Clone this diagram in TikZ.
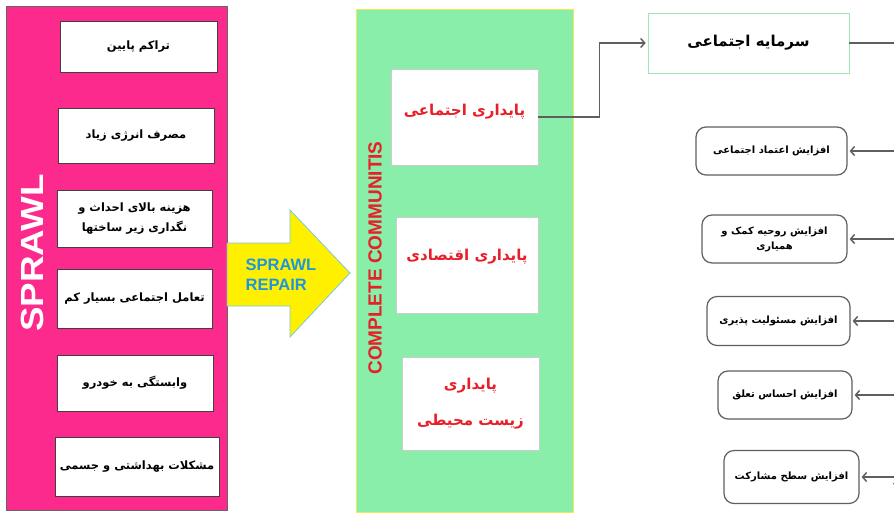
\documentclass[tikz,border=0pt]{standalone}
\usepackage{fontspec}
\setmainfont{Liberation Sans}
\newfontfamily\fa[Script=Arabic]{DejaVu Sans}
\TeXXeTstate=1
\usetikzlibrary{arrows.meta,positioning}

\definecolor{sprawlpink}{RGB}{252,42,140}
\definecolor{commgreen}{RGB}{136,238,170}
\definecolor{commedge}{RGB}{236,236,80}
\definecolor{repairyellow}{RGB}{255,240,0}
\definecolor{repairedge}{RGB}{120,200,230}
\definecolor{repairblue}{RGB}{30,150,220}
\definecolor{fared}{RGB}{232,30,40}
\definecolor{capedge}{RGB}{160,230,180}
\definecolor{linkgray}{RGB}{95,95,95}

\newcommand{\fat}[1]{{\fa\bfseries\beginR #1\endR}}

\begin{document}
\begin{tikzpicture}[x=1pt,y=-1pt,>={Straight Barb[length=4pt,width=9pt]},
                    shorten >=2pt,semithick]
  \tikzstyle{badbox}=[draw=black!75,fill=white,inner sep=0pt,align=center,
                      font=\fontsize{11.5}{20}\selectfont]
  \tikzstyle{goodbox}=[draw=black!20,fill=white,inner sep=0pt,align=center,
                       text=fared,font=\fontsize{15}{36}\selectfont]
  \tikzstyle{gainbox}=[draw=linkgray,line width=1.2pt,rounded corners=10pt,
                       fill=white,inner sep=0pt,align=center,
                       font=\fontsize{10}{15}\selectfont]

  \useasboundingbox (0,0) rectangle (894,515);

  % sprawl column
  \node[draw=black!60,fill=sprawlpink,minimum width=221pt,minimum height=504pt,
        inner sep=0pt]	(sprawl)	at (116.5,258)	{};
  \node[rotate=90,text=white,font=\bfseries\fontsize{32}{32}\selectfont]
        	(sprawltitle)	at (32,253)	{\scalebox{1.15}[1]{SPRAWL}};

  \node[badbox,minimum width=157pt,minimum height=51pt]	(b1)	at (138.5,46.5)	{\fat{تراکم پایین}};
  \node[badbox,minimum width=156pt,minimum height=55pt]	(b2)	at (136,135.5)	{\fat{مصرف انرژی زیاد}};
  \node[badbox,minimum width=155pt,minimum height=57pt]	(b3)	at (134.5,218.5)	{\fat{هزینه بالای احداث و}\\\fat{نگداری زیر ساختها}};
  \node[badbox,minimum width=155pt,minimum height=59pt]	(b4)	at (134.5,298.5)	{\fat{تعامل اجتماعی بسیار کم}};
  \node[badbox,minimum width=156pt,minimum height=56pt]	(b5)	at (135,383)	{\fat{وابستگی به خودرو}};
  \node[badbox,minimum width=164pt,minimum height=59pt]	(b6)	at (137,466.5)	{\fat{مشکلات بهداشتی و جسمی}};

  % repair arrow
  \draw[fill=repairyellow,draw=repairedge,thick]
        (227,243) -- (290,243) -- (290,210) -- (350,273) -- (290,337) -- (290,306) -- (227,306) -- cycle;
  \node[align=left,text=repairblue,inner sep=0pt,
        font=\bfseries\fontsize{16.5}{20}\selectfont]	(repair)	at (281,275)	{SPRAWL\\REPAIR};

  % complete communities column
  \node[draw=commedge,fill=commgreen,minimum width=217pt,minimum height=503pt,
        inner sep=0pt]	(comm)	at (464.5,260.5)	{};
  \node[rotate=90,text=fared,font=\bfseries\fontsize{19}{19}\selectfont]
        	(commtitle)	at (375,258)	{COMPLETE COMMUNITIS};

  \node[goodbox,minimum width=147pt,minimum height=96pt]	(g1)	at (464.5,117)	{\raisebox{2pt}[0pt][0pt]{\fat{پایداری اجتماعی}}};
  \node[goodbox,minimum width=142pt,minimum height=96pt]	(g2)	at (467,265)	{\raisebox{5pt}[0pt][0pt]{\fat{پایداری اقتصادی}}};
  \node[goodbox,minimum width=137pt,minimum height=93pt]	(g3)	at (470.5,403.5)	{\fat{پایداری}\\\fat{زیست محیطی}};

  % social capital
  \node[draw=capedge,fill=white,minimum width=201pt,minimum height=60pt,
        inner sep=0pt,font=\fontsize{15}{17}\selectfont]	(capital)	at (748.5,43)	{\fat{سرمایه اجتماعی}};
  \coordinate	(rail)	at (898,43);

  \node[gainbox,minimum width=151pt,minimum height=48pt]	(r1)	at (771.5,151)	{\fat{افزایش اعتماد اجتماعی}};
  \node[gainbox,minimum width=145pt,minimum height=48pt]	(r2)	at (774.5,239)	{\fat{افزایش روحیه کمک و}\\\fat{همیاری}};
  \node[gainbox,minimum width=143pt,minimum height=49pt]	(r3)	at (778.5,321)	{\fat{افزایش مسئولیت پذیری}};
  \node[gainbox,minimum width=134pt,minimum height=48pt]	(r4)	at (785,395)	{\fat{افزایش احساس تعلق}};
  \node[gainbox,minimum width=135pt,minimum height=53pt]	(r5)	at (791.5,477)	{\fat{افزایش سطح مشارکت}};

  \draw[->,draw=linkgray,line width=1.5pt]	(g1.east) -- ++(61,0) |- (capital.west);
  \draw[draw=linkgray,line width=1.5pt]	(capital.east) -- (rail);

  \path[->,draw=linkgray,line width=1.5pt]
  		(r1.east -| rail)	edge	(r1.east)
  		(r2.east -| rail)	edge	(r2.east)
  		(r3.east -| rail)	edge	(r3.east)
  		(r4.east -| rail)	edge	(r4.east)
  		(r5.east -| rail)	edge	(r5.east);

\end{tikzpicture}
\end{document}
